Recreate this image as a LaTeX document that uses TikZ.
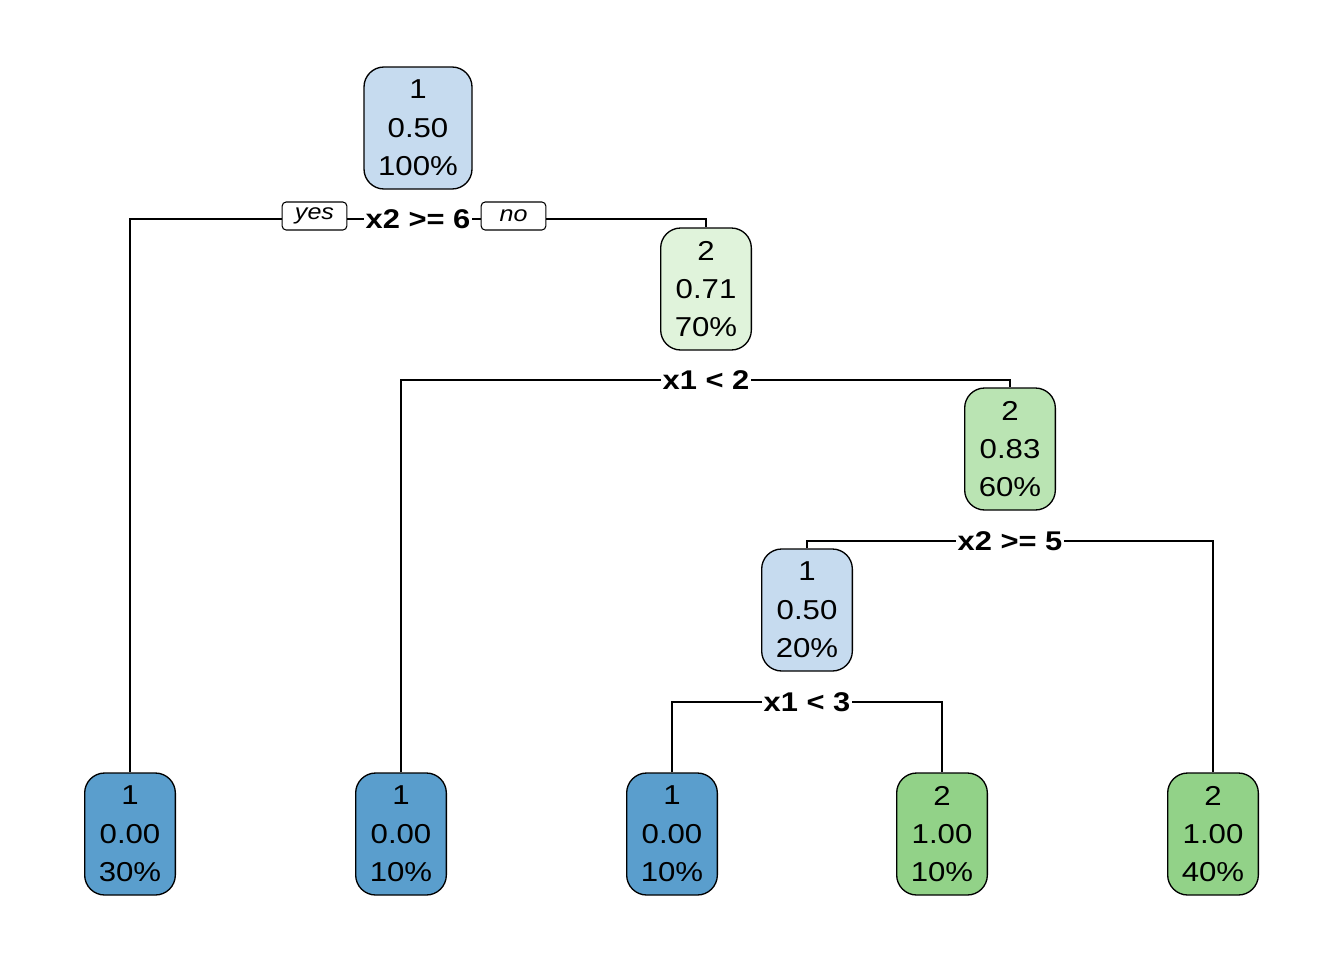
\documentclass[tikz,border=0pt]{standalone}
\usepackage{fontspec}
\setmainfont{Liberation Sans}[FakeStretch=1.14]
\usetikzlibrary{backgrounds}
\definecolor{cLB}{HTML}{C6DBEF}
\definecolor{cLG}{HTML}{E0F3DB}
\definecolor{cMG}{HTML}{BAE4B3}
\definecolor{cDB}{HTML}{5A9ECD}
\definecolor{cDG}{HTML}{92D288}
\tikzset{
  tnode/.style={draw=black, line width=1pt, rounded corners=15pt, align=center,
    minimum width=68pt, minimum height=91.5pt, inner sep=0pt,
    font=\fontsize{20.5}{28.8}\selectfont},
  split/.style={fill=white, inner sep=1.5pt, font=\fontsize{20.3}{21}\selectfont\bfseries},
  yn/.style={draw=black, fill=white, line width=0.8pt, rounded corners=3pt,
    minimum width=48.5pt, minimum height=21pt, inner sep=0pt,
    font=\fontsize{16.5}{17}\selectfont\itshape},
  edge/.style={draw=black, line width=1pt}
}
\begin{document}
\begin{tikzpicture}[x=0.75pt,y=-0.75pt]
\useasboundingbox (0,0) rectangle (1344,960);
% internal nodes
\node[tnode, fill=cLB, minimum width=81pt] (n1) at (418,128) {1\\0.50\\100\%};
\node[tnode, fill=cLG] (n2) at (706,289) {2\\0.71\\70\%};
\node[tnode, fill=cMG] (n3) at (1010,449) {2\\0.83\\60\%};
\node[tnode, fill=cLB] (n4) at (807,610) {1\\0.50\\20\%};
% leaves
\node[tnode, fill=cDB] (l1) at (130,834) {1\\0.00\\30\%};
\node[tnode, fill=cDB] (l2) at (401,834) {1\\0.00\\10\%};
\node[tnode, fill=cDB] (l3) at (672,834) {1\\0.00\\10\%};
\node[tnode, fill=cDG] (l4) at (942,834) {2\\1.00\\10\%};
\node[tnode, fill=cDG] (l5) at (1213,834) {2\\1.00\\40\%};
% split labels
\node[split] (s1) at (418,219) {x2 >= 6};
\node[split] (s2) at (706,380) {x1 < 2};
\node[split] (s3) at (1010,541) {x2 >= 5};
\node[split] (s4) at (807,702) {x1 < 3};
\node[yn] (yes) at (314.5,216) {yes};
\node[yn] (no) at (513.5,216) {no};
% connectors
\begin{scope}[on background layer]
\draw[edge] (l1.north) |- (s1.center) -| (n2.north);
\draw[edge] (l2.north) |- (s2.center) -| (n3.north);
\draw[edge] (n4.north) |- (s3.center) -| (l5.north);
\draw[edge] (l3.north) |- (s4.center) -| (l4.north);
\end{scope}
\end{tikzpicture}
\end{document}
